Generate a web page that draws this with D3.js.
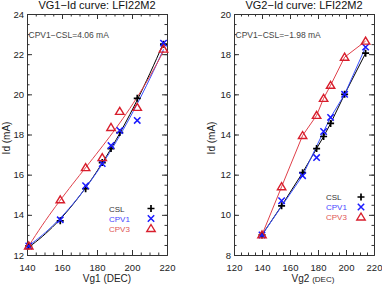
<!DOCTYPE html>
<html><head><meta charset="utf-8">
<script src="https://cdn.jsdelivr.net/npm/d3@7"></script>
<style>
body{margin:0;background:#fff;}
svg{display:block;font-family:"Liberation Sans",Arial,sans-serif;}
</style></head>
<body>
<svg id="c" width="382" height="285"></svg>
<script>
// ---- data ----
const vg1 = [141, 159, 173.5, 183, 188, 193, 203, 218];
const cslVg1  = [12.45, 13.7, 15.3, 16.6, 17.3, 18.1, 19.8, 22.5];
const cpv1Vg1 = [12.45, 13.75, 15.45, 16.55, 17.45, 18.2, 18.7, 22.55];
const cpv3Vg1 = [12.45, 14.75, 16.35, 16.85, 18.35, 19.15, 19.35, 22.25];

const vg2 = [140, 154, 169, 179, 184, 189, 199, 214];
const cslVg2  = [9.0, 10.45, 12.1, 13.3, 13.9, 14.55, 16.0, 18.05];
const cpv1Vg2 = [9.0, 10.7, 11.95, 12.85, 14.15, 14.85, 16.0, 18.35];
const cpv3Vg2 = [9.0, 11.4, 13.95, 14.95, 15.8, 16.45, 17.85, 18.65];
const cpv1Vg2LineIdx = [0, 2, 4, 5, 6, 7];   // points joined by the CPV1 line

const seriesNames = ["CSL", "CPV1", "CPV3"];
const titles = ["VG1\u2212Id curve: LFI22M2", "VG2\u2212Id curve: LFI22M2"];
const notes = ["CPV1\u2212CSL=4.06 mA", "CPV1\u2212CSL=\u22121.98 mA"];
const xTicks1 = [140, 160, 180, 200, 220];
const yTicks1 = [12, 14, 16, 18, 20, 22, 24];
const xTicks2 = [120, 140, 160, 180, 200, 220];
const yTicks2 = [8, 10, 12, 14, 16, 18, 20];

// ---- style ----
const colors = {CSL: "#000000", CPV1: "#1a1aff", CPV3: "#d81e2c"};
const lineColors = {CSL: "#000000", CPV1: "#3a50ff", CPV3: "#e0404a"};
const textColors = {CSL: "#333333", CPV1: "#4646ff", CPV3: "#e05555"};
const axisColor = "#333";

const svg = d3.select("#c");

// least-squares polynomial fit of the given degree
function polyFit(xs, ys, deg) {
  const n = deg + 1;
  const mx = d3.mean(xs), sx = (d3.max(xs) - d3.min(xs)) / 2;
  const S = d3.range(n).map(() => new Array(n).fill(0)), T = new Array(n).fill(0);
  xs.forEach((x, i) => {
    const u = (x - mx) / sx, p = d3.range(n).map(k => Math.pow(u, k));
    for (let j = 0; j < n; j++) { T[j] += p[j]*ys[i]; for (let k = 0; k < n; k++) S[j][k] += p[j]*p[k]; }
  });
  const A = S.map((r, i) => r.concat([T[i]]));
  for (let c = 0; c < n; c++) {
    for (let r = c+1; r < n; r++) {
      const f = A[r][c]/A[c][c];
      for (let k = c; k <= n; k++) A[r][k] -= f*A[c][k];
    }
  }
  const co = new Array(n).fill(0);
  for (let r = n-1; r >= 0; r--) {
    let s = A[r][n];
    for (let k = r+1; k < n; k++) s -= A[r][k]*co[k];
    co[r] = s/A[r][r];
  }
  return x => { const u = (x - mx) / sx; return co.reduce((a, c, k) => a + c*Math.pow(u, k), 0); };
}

function marker(g, name, cx, cy) {
  const c = colors[name];
  if (name === "CSL") {
    g.append("path").attr("d", `M${cx-3.5},${cy}H${cx+3.5}M${cx},${cy-3.5}V${cy+3.5}`)
      .attr("stroke", c).attr("stroke-width", 1.7).attr("fill", "none");
  } else if (name === "CPV1") {
    g.append("path").attr("d", `M${cx-3.2},${cy-3.2}L${cx+3.2},${cy+3.2}M${cx-3.2},${cy+3.2}L${cx+3.2},${cy-3.2}`)
      .attr("stroke", c).attr("stroke-width", 1.5).attr("fill", "none");
  } else {
    g.append("path").attr("d", `M${cx},${cy-4}L${cx+4.2},${cy+3}L${cx-4.2},${cy+3}Z`)
      .attr("stroke", c).attr("stroke-width", 1.4).attr("fill", "none");
  }
}

function panel(cfg) {
  const {x0, x1, y0, y1} = cfg;
  const x = d3.scaleLinear().domain(cfg.xDomain).range([x0, x1]);
  const y = d3.scaleLinear().domain(cfg.yDomain).range([y1, y0]);
  const g = svg.append("g");
  const xMinor = d3.range(cfg.xDomain[0], cfg.xDomain[1] + 0.001, 5);
  const yMinor = d3.range(cfg.yDomain[0], cfg.yDomain[1] + 0.001, 0.5);

  function styleAxis(sel) {
    sel.selectAll("path,line").attr("stroke", axisColor);
    sel.selectAll("text").attr("fill", "#222").style("font-size", "9.5px").style("font-family", "Liberation Sans, Arial, sans-serif");
  }
  g.append("g").attr("transform", `translate(0,${y1})`)
    .call(d3.axisBottom(x).tickValues(xMinor).tickSize(-2.5).tickSizeOuter(0).tickFormat("")).call(styleAxis);
  g.append("g").attr("transform", `translate(0,${y1})`)
    .call(d3.axisBottom(x).tickValues(cfg.xTicks).tickSize(-5).tickSizeOuter(0).tickPadding(9)).call(styleAxis);
  g.append("g").attr("transform", `translate(0,${y0})`)
    .call(d3.axisTop(x).tickValues(xMinor).tickSize(-2.5).tickSizeOuter(0).tickFormat("")).call(styleAxis);
  g.append("g").attr("transform", `translate(0,${y0})`)
    .call(d3.axisTop(x).tickValues(cfg.xTicks).tickSize(-5).tickSizeOuter(0).tickFormat("")).call(styleAxis);
  g.append("g").attr("transform", `translate(${x0},0)`)
    .call(d3.axisLeft(y).tickValues(yMinor).tickSize(-2.5).tickSizeOuter(0).tickFormat("")).call(styleAxis);
  g.append("g").attr("transform", `translate(${x0},0)`)
    .call(d3.axisLeft(y).tickValues(cfg.yTicks).tickSize(-5).tickSizeOuter(0).tickPadding(3)).call(styleAxis);
  g.append("g").attr("transform", `translate(${x1},0)`)
    .call(d3.axisRight(y).tickValues(yMinor).tickSize(-2.5).tickSizeOuter(0).tickFormat("")).call(styleAxis);
  g.append("g").attr("transform", `translate(${x1},0)`)
    .call(d3.axisRight(y).tickValues(cfg.yTicks).tickSize(-5).tickSizeOuter(0).tickFormat("")).call(styleAxis);

  g.append("text").attr("x", (x0 + x1)/2).attr("y", 9).attr("text-anchor", "middle")
    .style("font-size", "11px").attr("fill", "#111").text(cfg.title);
  g.append("text").attr("x", x0 + 1.5).attr("y", 37.5)
    .style("font-size", "8.5px").attr("fill", "#444").text(cfg.note);
  const xt = g.append("text").attr("x", cfg.xTitleX).attr("y", 282).attr("text-anchor", "middle")
    .style("font-size", "10px").attr("fill", "#222");
  xt.append("tspan").text(cfg.xTitle + " ");
  xt.append("tspan").style("font-size", cfg.decSize).text("(DEC)");
  g.append("text").attr("transform", `translate(${cfg.yTitleX},138) rotate(-90)`).attr("text-anchor", "middle")
    .style("font-size", "10px").attr("fill", "#222").text("Id (mA)");

  const line = d3.line().x(d => x(d[0])).y(d => y(d[1]));
  cfg.series.forEach(s => {
    let pts;
    if (s.fit) {
      const f = polyFit(cfg.xs, s.values, s.fit);
      const lo = d3.min(cfg.xs), hi = d3.max(cfg.xs);
      pts = d3.range(0, 41).map(i => { const xv = lo + (hi - lo)*i/40; return [xv, f(xv)]; });
    } else {
      const idx = s.idx || cfg.xs.map((d, i) => i);
      pts = idx.map(i => [cfg.xs[i], s.values[i]]);
    }
    g.append("path").attr("d", line(pts)).attr("fill", "none")
      .attr("stroke", lineColors[s.name]).attr("stroke-width", 1);
  });
  cfg.series.forEach(s => {
    cfg.xs.forEach((xv, i) => marker(g, s.name, x(xv), y(s.values[i])));
  });
  seriesNames.forEach((n, i) => {
    const ly = cfg.legY + i*10;
    g.append("text").attr("x", cfg.legTextX).attr("y", ly + 2.5)
      .style("font-size", "8px").attr("fill", textColors[n]).text(n);
    marker(g, n, cfg.legMarkX, ly - 0.5);
  });
}

panel({
  x0: 27, x1: 167, y0: 14, y1: 255,
  xDomain: [140, 220], yDomain: [12, 24],
  xTicks: xTicks1, yTicks: yTicks1,
  title: titles[0], note: notes[0],
  xTitle: "Vg1", decSize: "10px", xTitleX: 107, yTitleX: 10,
  xs: vg1,
  series: [
    {name: "CSL", values: cslVg1, fit: 2},
    {name: "CPV1", values: cpv1Vg1, fit: 2},
    {name: "CPV3", values: cpv3Vg1, fit: 3}
  ],
  legY: 209, legTextX: 109, legMarkX: 151
});

panel({
  x0: 234, x1: 374, y0: 14, y1: 255,
  xDomain: [120, 220], yDomain: [8, 20],
  xTicks: xTicks2, yTicks: yTicks2,
  title: titles[1], note: notes[1],
  xTitle: "Vg2", decSize: "8px", xTitleX: 313, yTitleX: 215,
  xs: vg2,
  series: [
    {name: "CSL", values: cslVg2},
    {name: "CPV1", values: cpv1Vg2, idx: cpv1Vg2LineIdx},
    {name: "CPV3", values: cpv3Vg2}
  ],
  legY: 197.5, legTextX: 326, legMarkX: 361
});
</script>
</body></html>
